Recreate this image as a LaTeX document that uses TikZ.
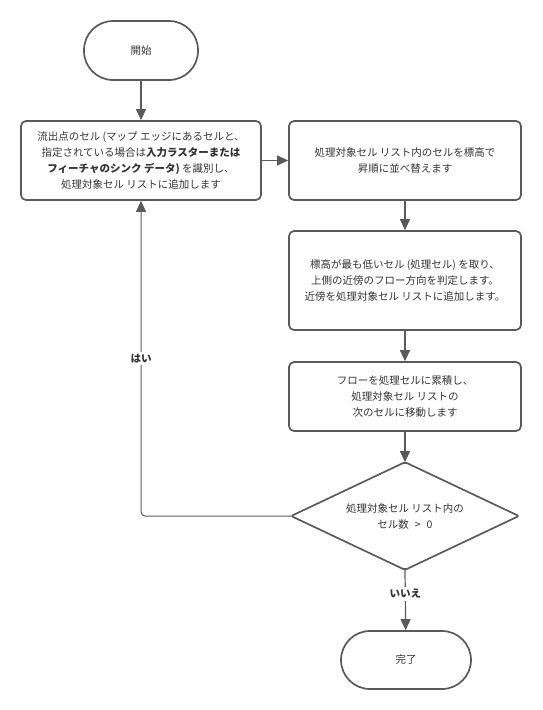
\documentclass[tikz,border=0pt]{standalone}
\usepackage{fontspec}
\setmainfont{Noto Sans CJK JP}
\usetikzlibrary{arrows.meta}
\definecolor{ln}{HTML}{5A5A5A}
\definecolor{tx}{HTML}{333333}
\tikzset{
  base/.style={draw=ln, line width=1.7pt, align=center, text=tx, inner sep=0pt,
    font=\fontsize{10.5}{16}\selectfont},
  box/.style={base, rounded corners=5pt, minimum width=232pt},
  term/.style={base, rounded corners=29pt},
  conn/.style={draw=ln, line width=1.2pt, -{Triangle[length=11pt,width=10pt]}},
  lbl/.style={fill=white, text=tx, inner sep=2pt, font=\fontsize{10.5}{12}\selectfont\bfseries}
}
\begin{document}
\begin{tikzpicture}[x=1pt,y=1pt]
\useasboundingbox (0,0) rectangle (542,-710);
\node[term, minimum width=114pt, minimum height=59pt] (start) at (141,-50.5) {開始};
\node[box, minimum width=240pt, minimum height=79pt] (box1) at (141,-160.5)
  {流出点のセル (マップ エッジにあるセルと、\\
   指定されている場合は{\bfseries 入力ラスターまたは}\\
   {\bfseries フィーチャのシンク データ)} を識別し、\\
   処理対象セル リストに追加します};
\node[box, minimum height=79pt] (box2) at (405,-160.5)
  {処理対象セル リスト内のセルを標高で\\昇順に並べ替えます};
\node[box, minimum height=99pt] (box3) at (405,-280.5)
  {標高が最も低いセル (処理セル) を取り、\\上側の近傍のフロー方向を判定します。\\近傍を処理対象セル リストに追加します。};
\node[box, minimum height=69pt] (box4) at (405,-396.5)
  {フローを処理セルに累積し、\\処理対象セル リストの\\次のセルに移動します};
\node[base, draw=none, minimum width=226pt, minimum height=106pt] (dec) at (405,-516)
  {処理対象セル リスト内の\\セル数\hspace{6pt}>\hspace{6pt}0};
\draw[draw=ln, line width=1.7pt, rounded corners=2pt]
  (dec.west) -- (dec.north) -- (dec.east) -- (dec.south) -- cycle;
\node[term, minimum width=130pt, minimum height=58pt] (end) at (406,-660) {完了};

\draw[conn] (start) -- (box1);
\draw[conn] (box1) -- (box2);
\draw[conn] (box2) -- (box3);
\draw[conn] (box3) -- (box4);
\draw[conn] (box4) -- (dec.north);
\draw[conn] (dec.south) -- node[lbl, pos=0.4] {いいえ} (end);
\draw[conn, line width=1pt, rounded corners=4pt] (dec.west) -- (dec.west -| box1.south)
  -- node[lbl] {はい} (box1.south);
\end{tikzpicture}
\end{document}
